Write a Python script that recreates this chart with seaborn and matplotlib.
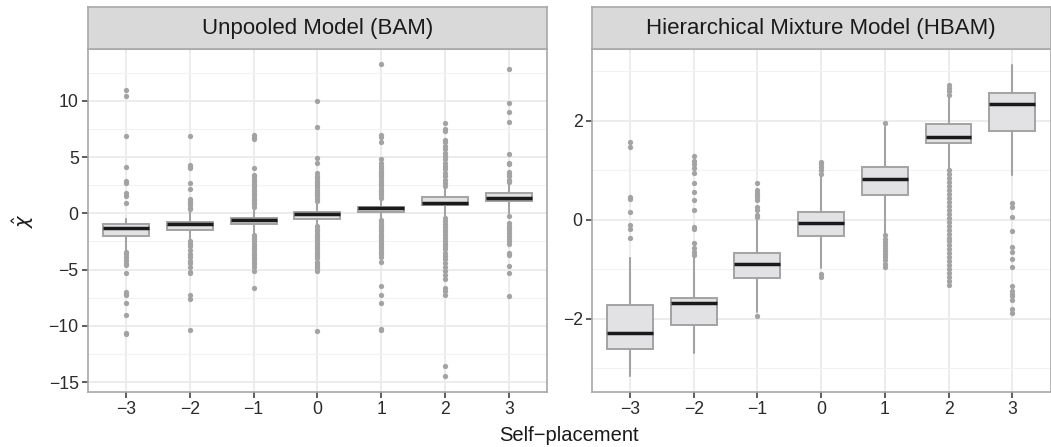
import pandas as pd
import matplotlib
matplotlib.use("Agg")
import matplotlib.pyplot as plt
import seaborn as sns

# categories (self-placement)
categorias = ["\u22123", "\u22122", "\u22121", "0", "1", "2", "3"]
titulos = ["Unpooled Model (BAM)", "Hierarchical Mixture Model (HBAM)"]

# --- BAM box statistics ---
bam_q1 = [-2.04, -1.51, -0.95, -0.50, 0.15, 0.74, 1.10]
bam_med = [-1.33, -0.95, -0.56, -0.06, 0.44, 0.92, 1.33]
bam_q3 = [-0.98, -0.77, -0.39, 0.09, 0.59, 1.48, 1.84]
bam_lo = [-3.26, -2.45, -1.75, -1.00, -0.45, -0.30, 0.00]
bam_hi = [-0.55, 0.20, 0.42, 0.95, 1.20, 2.30, 2.65]

# --- BAM outliers ---
bam_out = [
    [11.0, 10.4, 6.9, 4.1, 2.9, 2.7, 1.8, 1.5, 0.9, -3.4, -3.6, -3.9, -4.15, -4.4,
     -4.6, -5.3, -7.0, -7.2, -7.3, -8.0, -9.0, -10.6, -10.75],
    [6.85, 4.3, 4.15, 4.0, 2.7, 2.2, 1.3, 1.1, 0.9, 0.7, 0.5, 0.35, -2.5, -2.7, -2.95,
     -3.25, -3.6, -3.85, -4.2, -4.45, -4.75, -5.2, -5.35, -7.25, -7.65, -10.35],
    [7.0, 6.8, 6.6, 4.05, 3.4, 3.2, 3.0, 2.8, 2.6, 2.4, 2.2, 2.0, 1.8, 1.6, 1.4, 1.2,
     1.0, 0.8, 0.6, -1.9, -2.1, -2.3, -2.5, -2.7, -2.9, -3.1, -3.3, -3.5, -3.7, -3.9,
     -4.1, -4.3, -4.5, -4.8, -5.1, -6.65],
    [9.95, 7.65, 4.9, 4.5, 3.55, 3.3, 3.1, 2.9, 2.7, 2.5, 2.3, 2.1, 1.9, 1.7, 1.5, 1.3,
     1.1, -1.15, -1.4, -1.6, -1.8, -2.0, -2.2, -2.4, -2.6, -2.8, -3.0, -3.2, -3.4, -3.6,
     -3.8, -4.0, -4.3, -4.5, -4.7, -4.9, -5.15, -10.5],
    [13.25, 7.0, 6.75, 6.3, 4.85, 4.45, 4.2, 4.0, 3.8, 3.6, 3.4, 3.2, 3.0, 2.8, 2.6,
     2.4, 2.2, 2.0, 1.8, 1.6, 1.4, -0.6, -0.8, -1.0, -1.2, -1.4, -1.6, -1.8, -2.0, -2.2,
     -2.4, -2.6, -2.8, -3.0, -3.2, -3.4, -3.65, -3.85, -4.3, -6.45, -7.25, -7.95,
     -10.25, -10.4],
    [8.05, 7.5, 7.3, 6.5, 6.3, 6.0, 5.7, 5.4, 5.1, 4.8, 4.5, 4.2, 3.9, 3.6, 3.3, 3.0,
     2.7, 2.45, -0.45, -0.7, -0.95, -1.2, -1.45, -1.7, -1.95, -2.2, -2.45, -2.7, -2.95,
     -3.2, -3.5, -3.8, -4.1, -4.45, -4.8, -5.1, -5.5, -5.8, -6.6, -6.9, -7.25, -13.55,
     -14.45],
    [12.85, 9.8, 9.0, 8.15, 5.3, 4.45, 4.35, 3.7, 3.5, 3.3, 3.0, 2.8, -0.2, -0.9, -1.1,
     -1.3, -1.5, -1.75, -2.0, -2.25, -2.5, -2.7, -3.55, -3.7, -4.65, -5.35, -7.35],
]

# --- HBAM box statistics ---
hbam_q1 = [-2.61, -2.14, -1.18, -0.33, 0.51, 1.56, 1.79]
hbam_med = [-2.30, -1.69, -0.90, -0.07, 0.82, 1.67, 2.34]
hbam_q3 = [-1.73, -1.585, -0.68, 0.15, 1.07, 1.94, 2.57]
hbam_lo = [-3.16, -2.70, -1.86, -0.98, -0.28, 1.04, 0.90]
hbam_hi = [-0.77, -0.75, -0.01, 0.87, 1.88, 2.49, 3.14]

# --- HBAM outliers ---
hbam_out = [
    [1.58, 1.48, 0.47, 0.41, 0.15, -0.11, -0.18, -0.36],
    [1.29, 1.19, 1.12, 1.05, 0.95, 0.74, 0.57, 0.40, 0.20, -0.14, -0.18, -0.47,
     -0.58, -0.65, -0.72],
    [0.75, 0.60, 0.55, 0.50, 0.45, 0.40, 0.26, 0.20, 0.10, 0.05, -1.94],
    [1.17, 1.12, 1.06, 1.00, 0.92, -1.09, -1.15],
    [1.96, -0.30, -0.38, -0.45, -0.52, -0.58, -0.64, -0.70, -0.76, -0.82, -0.90, -0.95],
    [2.72, 2.66, 2.60, 2.53, 1.00, 0.92, 0.84, 0.76, 0.68, 0.60, 0.52, 0.44, 0.36,
     0.28, 0.20, 0.12, 0.04, -0.04, -0.12, -0.20, -0.28, -0.36, -0.44, -0.52, -0.60,
     -0.68, -0.76, -0.84, -0.92, -1.00, -1.08, -1.16, -1.24, -1.32],
    [0.33, 0.25, 0.06, -0.22, -0.55, -0.65, -0.80, -0.95, -1.34, -1.45, -1.50, -1.55,
     -1.63, -1.80, -1.88],
]

GRIS = "#A3A3A3"
BORDE = "#A8A8A8"

sns.set_theme(style="white")
plt.rcParams["font.family"] = ["Liberation Sans", "DejaVu Sans"]
plt.rcParams["mathtext.fontset"] = "dejavusans"


def dibujar_panel(fig, rect, q1, med, q3, lo, hi, outliers, titulo,
                  ylim, mayores, menores):
    ax = fig.add_axes(rect)
    filas = []
    for cat, vals in zip(categorias, outliers):
        for v in vals:
            filas.append({"x": cat, "y": v})
    df = pd.DataFrame(filas)
    sns.stripplot(data=df, x="x", y="y", order=categorias, jitter=False,
                  color=GRIS, size=3.8, linewidth=0, ax=ax, zorder=3)

    stats = []
    for i in range(len(categorias)):
        stats.append({"med": med[i], "q1": q1[i], "q3": q3[i],
                      "whislo": lo[i], "whishi": hi[i], "fliers": []})
    ax.bxp(stats, positions=range(len(categorias)), widths=0.72,
           showfliers=False, showcaps=False, patch_artist=True,
           boxprops=dict(facecolor="#E2E2E4", edgecolor=GRIS, linewidth=1.4),
           medianprops=dict(color="#1A1A1A", linewidth=2.5, solid_capstyle="butt"),
           whiskerprops=dict(color=GRIS, linewidth=1.5),
           zorder=2)

    ax.set_xlim(-0.6, 6.6)
    ax.set_ylim(*ylim)
    ax.set_xticks(range(len(categorias)))
    ax.set_xticklabels(categorias)
    ax.set_yticks(mayores)
    ax.set_yticklabels([f"{v:g}".replace("-", "\u2212") for v in mayores])
    ax.set_yticks(menores, minor=True)
    ax.set_xlabel("")
    ax.set_ylabel("")
    ax.set_axisbelow(True)
    ax.grid(True, which="major", color="#EBEBEB", linewidth=1.3)
    ax.grid(True, which="minor", axis="y", color="#F2F2F2", linewidth=0.8)
    ax.tick_params(axis="both", which="major", length=4, width=1.1, color="#333333",
                   labelsize=12.7, labelcolor="#2B2B2B", pad=2.5,
                   bottom=True, left=True)
    ax.tick_params(axis="y", which="minor", length=0)
    for s in ax.spines.values():
        s.set_color(BORDE)
        s.set_linewidth(1.2)

    # strip (facet title)
    l, b, w, h = rect
    sax = fig.add_axes([l, b + h, w, 42 / 447])
    sax.set_facecolor("#D9D9D9")
    sax.set_xticks([])
    sax.set_yticks([])
    for s in sax.spines.values():
        s.set_color(BORDE)
        s.set_linewidth(1.2)
    sax.text(0.5, 0.48, titulo, ha="center", va="center", fontsize=16,
             color="#1A1A1A", transform=sax.transAxes)
    return ax


W, H = 1051, 447
fig = plt.figure(figsize=(W / 100, H / 100), dpi=100)

fondo = (H - 391.7) / H
alto = (391.7 - 49) / H

dibujar_panel(fig, [87.7 / W, fondo, (547 - 87.7) / W, alto],
              bam_q1, bam_med, bam_q3, bam_lo, bam_hi, bam_out, titulos[0],
              (-15.86, 14.6), [-15, -10, -5, 0, 5, 10],
              [-12.5, -7.5, -2.5, 2.5, 7.5, 12.5])
dibujar_panel(fig, [591.7 / W, fondo, (1050.5 - 591.7) / W, alto],
              hbam_q1, hbam_med, hbam_q3, hbam_lo, hbam_hi, hbam_out, titulos[1],
              (-3.48, 3.455), [-2, 0, 2], [-3, -1, 1, 3])

fig.text(569 / W, 1 - 441 / H, "Self\u2212placement", ha="center", va="baseline",
         fontsize=14.5, color="#1A1A1A")
fig.text(23 / W, 1 - 220 / H, r"$\hat{\chi}$", ha="center", va="center",
         rotation=90, fontsize=14, color="#1A1A1A")

fig.savefig("out.png", dpi=100)
